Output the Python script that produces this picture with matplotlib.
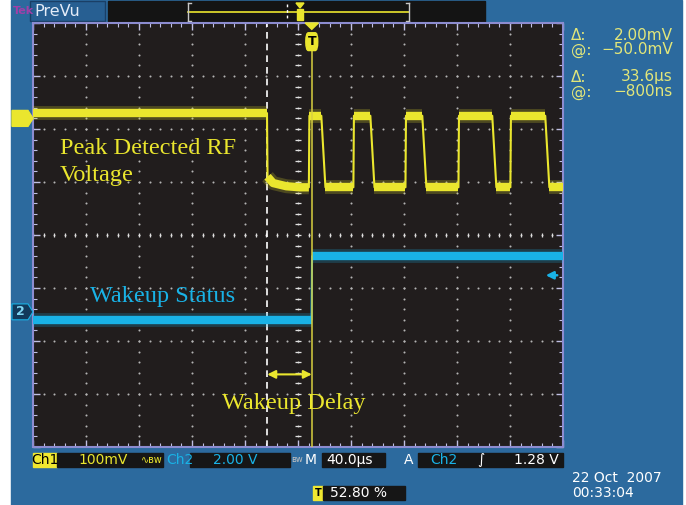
import matplotlib
matplotlib.use("Agg")
import matplotlib.pyplot as plt
import matplotlib.transforms as mtransforms
from matplotlib.patches import Rectangle, Polygon, FancyBboxPatch
import numpy as np

# ---- scope settings ----
time_per_div = 40.0        # us / div
trigger_pct = 52.80        # trigger position in %
ch1_scale = 100.0          # mV / div
ch2_scale = 2.0            # V / div
ch1_pos = 2.2              # div, ground marker of Ch1
ch2_pos = -1.45            # div, ground marker of Ch2
trig_level = 1.28          # V, on Ch2
cursor_delta = 33.6        # us
cursor_at = -0.8           # us

# ---- Ch1: peak detected RF voltage (us, mV) ----
ch1_t = [-211.2, -34.6, -34.2, -30.0, -20.0, -10.0, -3.0, -2.6, 6.4, 9.5,
         30.6, 31.0, 43.4, 46.5, 69.9, 70.3, 82.6, 85.7, 109.9, 110.3,
         135.4, 138.5, 149.1, 149.5, 175.4, 178.5, 188.8]
ch1_mv = [10, 10, -110, -122, -128, -130, -130, 5, 5, -130,
          -130, 5, 5, -130, -130, 5, 5, -130, -130, 5,
          5, -130, -130, 5, 5, -130, -130]

# ---- Ch2: wakeup status (us, V) ----
ch2_t = [-211.2, -1.0, -0.6, 188.8]
ch2_v = [-0.3, -0.3, 2.1, 2.1]

W, H = 686, 505
BLUE = "#2c6a9e"
SCREEN = "#211d1d"
YEL = "#eae62e"
CYAN = "#19b2e6"
LAV = "#8c8cd0"


def rect(x, y, w, h):
    return [x / W, 1 - (y + h) / H, w / W, h / H]


fig = plt.figure(figsize=(W / 100, H / 100), dpi=100, facecolor="white")

# background layer (pixel coords)
bg = fig.add_axes([0, 0, 1, 1], zorder=0)
bg.set_xlim(0, W)
bg.set_ylim(H, 0)
bg.axis("off")
bg.add_patch(Rectangle((11, 0), 671, H, color=BLUE))
# PreVu header
bg.add_patch(Rectangle((30, 1), 75, 20, facecolor="#275f92", edgecolor="#1a3f66", lw=1))
bg.text(13, 11, "Tek", color="#a040a8", fontsize=8, fontweight="bold", va="center")
bg.text(34, 11, "PreVu", color="#e4ecf8", fontsize=11.5, va="center")
bg.add_patch(Rectangle((108, 1), 377, 21, color="#141414"))
bg.plot([188, 409], [12, 12], color=YEL, lw=1.2)
for xb, d in [(188, 1), (409, -1)]:
    bg.plot([xb, xb], [3, 21], color="#c8c8c8", lw=1)
    bg.plot([xb, xb + 3 * d], [3, 3], color="#c8c8c8", lw=1)
    bg.plot([xb, xb + 3 * d], [21, 21], color="#c8c8c8", lw=1)
bg.plot([287, 287], [4, 20], color="white", lw=1, ls=(0, (2, 2)))
bg.add_patch(Rectangle((297, 9), 6, 11, color=YEL))
bg.add_patch(Polygon([(296, 3), (304, 3), (300, 8)], color=YEL))

# ---- screen / graticule ----
ax = fig.add_axes(rect(33, 23, 530, 424), zorder=1)
ax.set_facecolor(SCREEN)
t0 = -trigger_pct / 100 * 10 * time_per_div
t1 = t0 + 10 * time_per_div
ax.set_xlim(t0, t1)
ax.set_ylim(-4, 4)
for s in ax.spines.values():
    s.set_color(LAV)
    s.set_linewidth(1.5)
ax.set_xticks(np.arange(t0, t1 + 0.1, time_per_div))
ax.set_xticks(np.arange(t0, t1 + 0.1, time_per_div / 5), minor=True)
ax.set_yticks(np.arange(-4, 4.1, 1))
ax.set_yticks(np.arange(-4, 4.1, 0.2), minor=True)
ax.tick_params(which="both", direction="in", top=True, right=True,
               labelbottom=False, labelleft=False, colors="#c0c0e4")
ax.tick_params(which="major", length=5, width=1)
ax.tick_params(which="minor", length=3, width=0.8)

xs_major = np.arange(t0, t1 + 0.1, time_per_div)[1:-1]
ys_major = np.arange(-3, 4, 1)
xs_minor = np.arange(t0, t1 + 0.1, time_per_div / 5)
ys_minor = np.arange(-4, 4.01, 0.2)
gx, gy = np.meshgrid(xs_major, ys_minor)
ax.scatter(gx.ravel(), gy.ravel(), s=2.2, color="#b4b4b4", lw=0, zorder=1)
gx, gy = np.meshgrid(xs_minor, ys_major)
ax.scatter(gx.ravel(), gy.ravel(), s=2.2, color="#b4b4b4", lw=0, zorder=1)
tc = t0 + 5 * time_per_div
ax.scatter(np.full_like(ys_minor, tc), ys_minor, marker="_", s=14, color="#e0e0e0", lw=0.9, zorder=1)
ax.scatter(xs_minor, np.zeros_like(xs_minor), marker="|", s=10, color="#e0e0e0", lw=0.9, zorder=1)


def draw_trace(t, y, color):
    t = np.asarray(t, float)
    y = np.asarray(y, float)
    ax.plot(t, y, color=color, lw=1.5, zorder=4, solid_joinstyle="round")
    flat = np.abs(np.diff(y) / np.diff(t)) < 0.05
    i = 0
    while i < len(flat):
        if flat[i]:
            j = i
            while j < len(flat) and flat[j]:
                j += 1
            ax.plot(t[i:j + 1], y[i:j + 1], color=color, lw=10, alpha=0.22,
                    solid_capstyle="butt", solid_joinstyle="round", zorder=3)
            ax.plot(t[i:j + 1], y[i:j + 1], color=color, lw=6,
                    solid_capstyle="butt", solid_joinstyle="round", zorder=4)
            i = j
        else:
            i += 1


draw_trace(ch1_t, ch1_pos + np.asarray(ch1_mv) / ch1_scale, YEL)
draw_trace(ch2_t, ch2_pos + np.asarray(ch2_v) / ch2_scale, CYAN)

# cursors and trigger line
c1 = cursor_at - cursor_delta
ax.axvline(c1, color="white", lw=1.2, ls=(0, (4, 3)), zorder=2)
ax.axvline(cursor_at, ymax=0.97, color="#d8d040", lw=1.1, zorder=5)

# annotations
serif = "Liberation Serif"
ax.text(t0 + 20, 1.38, "Peak Detected RF\nVoltage", color=YEL, fontsize=17.5,
        family=serif, va="center", linespacing=1.42, zorder=6)
ax.text(t0 + 43, -1.16, "Wakeup Status", color=CYAN, fontsize=17.5,
        family=serif, va="center", zorder=6)
ax.text(c1 - 34, -3.18, "Wakeup Delay", color=YEL, fontsize=17.5,
        family=serif, va="center", zorder=6)
ax.annotate("", xy=(cursor_at, -2.63), xytext=(c1, -2.63),
            arrowprops=dict(arrowstyle="<|-|>", color=YEL, lw=1.5,
                            mutation_scale=12, shrinkA=0, shrinkB=0), zorder=6)

# channel markers (left) and trigger markers
blend = mtransforms.blended_transform_factory(ax.transAxes, ax.transData)
px = 1 / 530.0
pm = [(-21 * px, 0.15), (-5 * px, 0.15), (0, 0), (-5 * px, -0.15), (-21 * px, -0.15)]
ax.add_patch(Polygon([(x, ch1_pos + y) for x, y in pm], closed=True, color=YEL,
                     transform=blend, clip_on=False, zorder=6))
ax.text(-13 * px, ch1_pos, "1", color="black", fontsize=9, fontweight="bold",
        ha="center", va="center", transform=blend, clip_on=False)
ax.add_patch(Polygon([(x, ch2_pos + y) for x, y in pm], closed=True, facecolor="#123a5c",
                     edgecolor=CYAN, lw=0.8, transform=blend, clip_on=False, zorder=6))
ax.text(-13 * px, ch2_pos, "2", color="#7fd6f4", fontsize=9, fontweight="bold",
        ha="center", va="center", transform=blend, clip_on=False, zorder=7)
ax.annotate("", xy=(1 - 20 * px, ch2_pos + trig_level / ch2_scale + 0.05),
            xytext=(1 - 3 * px, ch2_pos + trig_level / ch2_scale + 0.05),
            xycoords=blend, textcoords=blend,
            arrowprops=dict(arrowstyle="-|>", color=CYAN, lw=1.8, mutation_scale=11))

blendx = mtransforms.blended_transform_factory(ax.transData, ax.transAxes)
ax.add_patch(Polygon([(cursor_at - 5, 1.0), (cursor_at + 5, 1.0), (cursor_at, 0.985)],
                     color=YEL, transform=blendx, clip_on=False, zorder=7))
ax.add_patch(FancyBboxPatch((cursor_at - 4.5, 0.935), 9, 0.042,
                            boxstyle="round,pad=0,rounding_size=2", color=YEL,
                            transform=blendx, clip_on=False, zorder=7,
                            mutation_aspect=0.01))
ax.text(cursor_at, 0.956, "T", color="black", fontsize=9, fontweight="bold",
        ha="center", va="center", transform=blendx, zorder=8)

# ---- overlay: readouts ----
ov = fig.add_axes([0, 0, 1, 1], zorder=3)
ov.set_xlim(0, W)
ov.set_ylim(H, 0)
ov.axis("off")
ov.patch.set_alpha(0)

RD = "#e2e67a"
fs = 11
for y, a, b in [(35, "Δ:", "2.00mV"), (50, "@:", "\u221250.0mV"),
                (77, "Δ:", "33.6µs"), (92, "@:", "\u2212800ns")]:
    ov.text(571, y, a, color=RD, fontsize=fs, va="center")
    ov.text(673, y, b, color=RD, fontsize=fs, va="center", ha="right")

# status bar
ov.add_patch(Rectangle((33, 453), 24, 14, color="#f0e830"))
ov.text(45, 460, "Ch1", color="black", fontsize=10, ha="center", va="center")
ov.add_patch(Rectangle((57, 453), 106, 14, color="#161616"))
ov.text(78, 460, "100mV", color=YEL, fontsize=10, va="center")
ov.text(141, 460, "∿ʙw", color=YEL, fontsize=7, va="center")
ov.text(166, 460, "Ch2", color=CYAN, fontsize=10, va="center")
ov.add_patch(Rectangle((190, 453), 100, 14, color="#161616"))
ov.text(213, 460, "2.00 V", color=CYAN, fontsize=10, va="center")
ov.text(291, 460, "ʙw", color="#c0c0c0", fontsize=6, va="center")
ov.text(311, 460, "M", color="white", fontsize=10, va="center", ha="center")
ov.add_patch(Rectangle((322, 453), 63, 14, color="#161616"))
ov.text(326, 460, "40.0µs", color="white", fontsize=10, va="center")
ov.text(404, 460, "A", color="white", fontsize=10, va="center")
ov.add_patch(Rectangle((418, 453), 145, 14, color="#161616"))
ov.text(430, 460, "Ch2", color=CYAN, fontsize=10, va="center")
ov.text(477, 460, "∫", color="white", fontsize=10, va="center")
ov.text(559, 460, f"{trig_level:.2f} V", color="white", fontsize=10, va="center", ha="right")

ov.add_patch(Rectangle((313, 486), 10, 14, color="#f0e830"))
ov.text(318, 493, "T", color="black", fontsize=7, ha="center", va="center", fontweight="bold")
ov.add_patch(Rectangle((323, 486), 82, 14, color="#161616"))
ov.text(330, 493, f"{trigger_pct:.2f} %", color="white", fontsize=10, va="center")

ov.text(572, 478, "22 Oct  2007", color="white", fontsize=10, va="center")
ov.text(572, 493, "00:33:04", color="white", fontsize=10, va="center")

fig.savefig("out.png", dpi=100, facecolor="white")
